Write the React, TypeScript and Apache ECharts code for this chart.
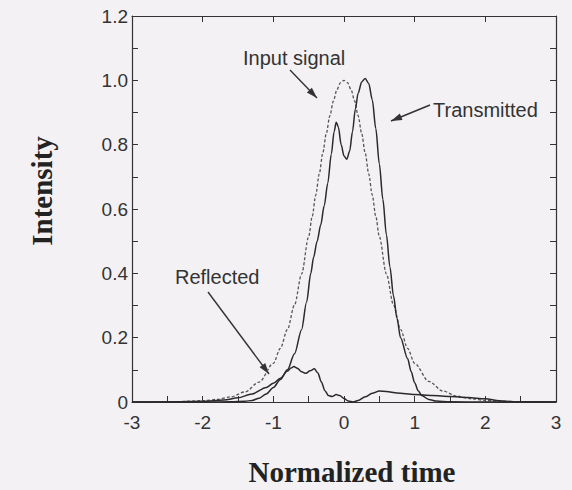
import React, { useEffect, useRef } from "react";
import * as echarts from "echarts";

// ---- data ----
const xTicks = [-3, -2, -1, 0, 1, 2, 3];
const yTickLabels = ["0", "0.2", "0.4", "0.6", "0.8", "1.0", "1.2"];

const inputTime = [-3, -2.6, -2.3, -2.0, -1.8, -1.6, -1.4, -1.2, -1.0, -0.9, -0.8, -0.7, -0.6, -0.5, -0.45, -0.4, -0.35, -0.3, -0.25, -0.2, -0.15, -0.1, -0.05, 0, 0.05, 0.1, 0.15, 0.2, 0.25, 0.3, 0.35, 0.4, 0.45, 0.5, 0.6, 0.7, 0.8, 0.9, 1.0, 1.2, 1.4, 1.6, 1.8, 2.0, 2.2, 2.5, 3];
const inputIntensity = [0.0001, 0.0005, 0.0014, 0.004, 0.008, 0.016, 0.0315, 0.062, 0.12, 0.167, 0.226, 0.302, 0.398, 0.514, 0.577, 0.643, 0.709, 0.774, 0.835, 0.89, 0.936, 0.971, 0.993, 1, 0.993, 0.971, 0.936, 0.89, 0.835, 0.774, 0.709, 0.643, 0.577, 0.514, 0.398, 0.302, 0.226, 0.167, 0.12, 0.064, 0.034, 0.018, 0.01, 0.005, 0.002, 0.0006, 0.0001];

const transTime = [-3, -2, -1.6, -1.4, -1.3, -1.2, -1.1, -1.0, -0.9, -0.8, -0.7, -0.6, -0.53, -0.47, -0.43, -0.38, -0.33, -0.28, -0.23, -0.18, -0.14, -0.11, -0.08, -0.04, 0.0, 0.04, 0.08, 0.12, 0.16, 0.2, 0.25, 0.3, 0.35, 0.4, 0.45, 0.5, 0.55, 0.6, 0.65, 0.7, 0.75, 0.8, 0.9, 0.95, 1.0, 1.05, 1.1, 1.2, 1.3, 1.5, 2, 3];
const transIntensity = [0, 0, 0.0005, 0.002, 0.005, 0.012, 0.025, 0.045, 0.07, 0.1, 0.15, 0.225, 0.31, 0.4, 0.45, 0.5, 0.55, 0.61, 0.68, 0.77, 0.84, 0.87, 0.855, 0.8, 0.765, 0.755, 0.78, 0.84, 0.91, 0.96, 0.995, 1.006, 0.99, 0.94, 0.85, 0.74, 0.63, 0.52, 0.42, 0.33, 0.26, 0.2, 0.135, 0.095, 0.06, 0.035, 0.02, 0.008, 0.003, 0.0005, 0, 0];

const reflTime = [-3, -2.4, -2.0, -1.7, -1.5, -1.3, -1.1, -1.0, -0.9, -0.8, -0.75, -0.71, -0.66, -0.6, -0.54, -0.48, -0.42, -0.37, -0.32, -0.27, -0.22, -0.17, -0.11, -0.06, 0.0, 0.06, 0.13, 0.2, 0.3, 0.4, 0.5, 0.6, 0.75, 1.0, 1.25, 1.5, 1.75, 2.0, 2.2, 2.4, 3];
const reflIntensity = [0, 0.0005, 0.002, 0.006, 0.013, 0.025, 0.045, 0.058, 0.074, 0.096, 0.106, 0.11, 0.105, 0.094, 0.089, 0.097, 0.103, 0.09, 0.062, 0.035, 0.02, 0.017, 0.023, 0.02, 0.011, 0.003, 0, 0.005, 0.016, 0.027, 0.034, 0.033, 0.028, 0.023, 0.02, 0.017, 0.014, 0.01, 0.004, 0.001, 0];

const annotations = [
  { text: "Input signal", x: 243, y: 58, from: [290, 70], to: [317, 98] },
  { text: "Transmitted", x: 433, y: 110, from: [430, 105], to: [391, 121] },
  { text: "Reflected", x: 175, y: 277, from: [208, 292], to: [269, 374] },
];

const SANS = "'Liberation Sans', Arial, Helvetica, sans-serif";
const SERIF = "'Liberation Serif', 'Times New Roman', serif";
const INK = "#333";

function pairs(xs: number[], ys: number[]) {
  return xs.map((x, i) => [x, ys[i]]);
}

function arrowHead(x1: number, y1: number, x2: number, y2: number, len = 11, half = 3.5) {
  const dx = x2 - x1, dy = y2 - y1;
  const d = Math.hypot(dx, dy);
  const ux = dx / d, uy = dy / d;
  const bx = x2 - ux * len, by = y2 - uy * len;
  return [[x2, y2], [bx - uy * half, by + ux * half], [bx + uy * half, by - ux * half]];
}

export default function App() {
  const ref = useRef<HTMLDivElement>(null);
  useEffect(() => {
    if (!ref.current) return;
    const chart = echarts.init(ref.current, undefined, { renderer: "svg" });
    const axisLine = { show: true, onZero: false, lineStyle: { color: INK, width: 1.2 } };
    const tick = { show: true, inside: true, length: 6, lineStyle: { color: INK, width: 1 } };
    const graphic: any[] = [];
    annotations.forEach((a) => {
      graphic.push({
        type: "text", x: a.x, y: a.y,
        style: { text: a.text, fontSize: 20, fontFamily: SANS, fill: INK, align: "left", verticalAlign: "middle" },
      });
      graphic.push({
        type: "line",
        shape: { x1: a.from[0], y1: a.from[1], x2: a.to[0], y2: a.to[1] },
        style: { stroke: INK, lineWidth: 1.4 },
      });
      graphic.push({
        type: "polygon",
        shape: { points: arrowHead(a.from[0], a.from[1], a.to[0], a.to[1]) },
        style: { fill: INK },
      });
    });
    graphic.push({
      type: "text", x: 42, y: 191, rotation: Math.PI / 2,
      style: { text: "Intensity", fontSize: 29, fontWeight: "bold", fontFamily: SERIF, fill: "#222", align: "center", verticalAlign: "middle" },
    });
    graphic.push({
      type: "text", x: 352, y: 472,
      style: { text: "Normalized time", fontSize: 29, fontWeight: "bold", fontFamily: SERIF, fill: "#222", align: "center", verticalAlign: "middle" },
    });

    chart.setOption({
      animation: false,
      backgroundColor: "#f3f1f3",
      grid: { left: 132, right: 16, top: 16, bottom: 88, containLabel: false },
      xAxis: [
        {
          type: "value", min: -3, max: 3, interval: 0.5, position: "bottom",
          axisLine, axisTick: tick, splitLine: { show: false },
          axisLabel: {
            fontSize: 19, color: INK, fontFamily: SANS, margin: 11,
            formatter: (v: number) => {
              const r = Math.round(v);
              return Math.abs(v - r) < 1e-6 && xTicks.includes(r) ? String(r) : "";
            },
          },
        },
        {
          type: "value", min: -3, max: 3, interval: 1, position: "top",
          axisLine, axisTick: tick, splitLine: { show: false }, axisLabel: { show: false },
        },
      ],
      yAxis: [
        {
          type: "value", min: 0, max: 1.2, interval: 0.1, position: "left",
          axisLine, axisTick: tick, splitLine: { show: false },
          axisLabel: {
            fontSize: 19, color: INK, fontFamily: SANS, margin: 4,
            formatter: (v: number) => {
              const k = Math.round(v * 10);
              return k % 2 === 0 ? yTickLabels[k / 2] : "";
            },
          },
        },
        {
          type: "value", min: 0, max: 1.2, interval: 0.1, position: "right",
          axisLine, axisTick: tick, splitLine: { show: false }, axisLabel: { show: false },
        },
      ],
      series: [
        {
          name: "Input signal", type: "line", data: pairs(inputTime, inputIntensity),
          showSymbol: false, smooth: 0.3, smoothMonotone: "x",
          lineStyle: { color: "#555", width: 1.3, type: [3, 2] },
        },
        {
          name: "Transmitted", type: "line", data: pairs(transTime, transIntensity),
          showSymbol: false, smooth: 0.3, smoothMonotone: "x",
          lineStyle: { color: "#2a2a2a", width: 1.5 },
        },
        {
          name: "Reflected", type: "line", data: pairs(reflTime, reflIntensity),
          showSymbol: false, smooth: 0.3, smoothMonotone: "x",
          lineStyle: { color: "#2a2a2a", width: 1.5 },
        },
      ],
      graphic,
    });
    return () => chart.dispose();
  }, []);
  return <div ref={ref} style={{ position: "fixed", left: 0, top: 0, width: 572, height: 490 }} />;
}
